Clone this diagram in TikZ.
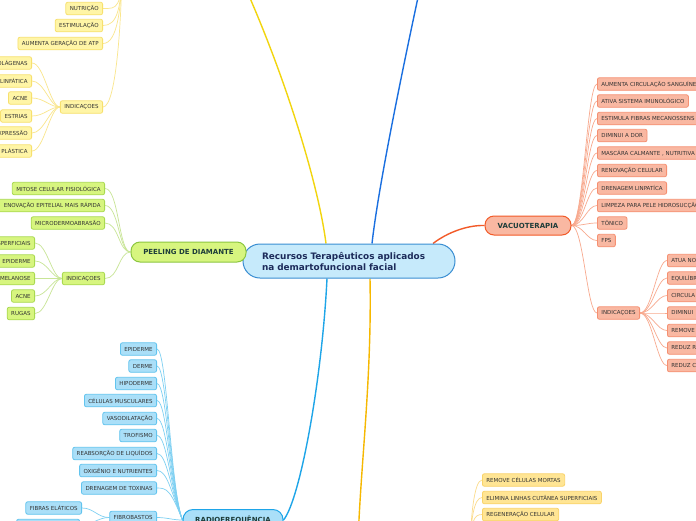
\documentclass[tikz,border=0pt]{standalone}
\usepackage{fontspec}
\setmainfont{DejaVu Sans}
\usetikzlibrary{backgrounds}
\definecolor{yfill}{HTML}{FFF5A6}
\definecolor{ydraw}{HTML}{F7E06E}
\definecolor{yline}{HTML}{FAE68C}
\definecolor{ymain}{HTML}{F2D50F}
\definecolor{gfill}{HTML}{D7F57F}
\definecolor{gdraw}{HTML}{A9D950}
\definecolor{gline}{HTML}{C8E596}
\definecolor{gmain}{HTML}{8CC63F}
\definecolor{bfill}{HTML}{AADFF8}
\definecolor{bdraw}{HTML}{62C4EE}
\definecolor{bline}{HTML}{7ED0F2}
\definecolor{bmain}{HTML}{1EA5E8}
\definecolor{sfill}{HTML}{F9B8A2}
\definecolor{sdraw}{HTML}{F59072}
\definecolor{sline}{HTML}{F8A98E}
\definecolor{smain}{HTML}{F25A28}
\definecolor{ofill}{HTML}{FFE594}
\definecolor{odraw}{HTML}{F9D36A}
\definecolor{oline}{HTML}{FCDC8C}
\definecolor{omain}{HTML}{F6B800}
\definecolor{dblue}{HTML}{1A6FE0}
\definecolor{cfill}{HTML}{C6EAFB}
\definecolor{cdraw}{HTML}{3A8ED2}
\definecolor{ctext}{HTML}{1C2B5A}
\definecolor{ttext}{HTML}{333333}
\definecolor{mtext}{HTML}{1E3D3A}
\tikzset{
  leaf/.style={rounded corners=2pt, line width=0.8pt, font=\fontsize{5.5}{6}\selectfont,
    text=ttext, minimum height=12.5pt, inner xsep=4pt, inner ysep=0pt},
  yleaf/.style={leaf, fill=yfill, draw=ydraw},
  gleaf/.style={leaf, fill=gfill, draw=gdraw},
  bleaf/.style={leaf, fill=bfill, draw=bdraw},
  sleaf/.style={leaf, fill=sfill, draw=sdraw},
  oleaf/.style={leaf, fill=ofill, draw=odraw},
  rcut/.style={text width=120pt, align=left},
  lcut/.style={text width=60pt, align=right},
  mainbox/.style={line width=1pt, font=\bfseries\fontsize{7}{8}\selectfont, text=mtext, inner sep=0pt},
  ycon/.style={draw=yline, line width=0.7pt},
  gcon/.style={draw=gline, line width=0.7pt},
  bcon/.style={draw=bline, line width=0.7pt},
  scon/.style={draw=sline, line width=0.7pt},
  ocon/.style={draw=oline, line width=0.7pt},
  maincon/.style={line width=1.4pt}
}
\begin{document}
\begin{tikzpicture}[x=1pt,y=-1pt]
\useasboundingbox (0,0) rectangle (696,520);
\clip (0,0) rectangle (696,520);

% central node
\node[rounded corners=17pt, fill=cfill, draw=cdraw, line width=1pt, minimum width=212pt,
  minimum height=34pt, text width=174pt, inner xsep=0pt, align=left, text=ctext,
  font=\bfseries\fontsize{8.9}{11}\selectfont] (c) at (349,261)
  {Recursos Terapêuticos aplicados\\na demartofuncional facial};

% main branches
\node[mainbox, rounded corners=9pt, fill=gfill, draw=gmain, minimum width=115pt, minimum height=20pt] (pm) at (188.5,252) {PEELING DE DIAMANTE};
\node[mainbox, rounded corners=9pt, fill=sfill, draw=smain, minimum width=86pt, minimum height=19pt] (v) at (528,225.5) {VACUOTERAPIA};
\node[mainbox, rounded corners=10pt, fill=bfill, draw=bmain, minimum width=100pt, minimum height=21pt] (r) at (233,520) {RADIOFREQUÊNCIA};

% off-canvas joins
\coordinate (yp) at (122,-40);
\coordinate (ytop) at (235,-35);
\coordinate (btop) at (425,-35);
\coordinate (obot) at (358,545);
\coordinate (gj) at (470,560);

% yellow leaves
\node[yleaf, anchor=east] (y1) at (103,8.5) {NUTRIÇÃO};
\node[yleaf, anchor=east] (y2) at (103,25.5) {ESTIMULAÇÃO};
\node[yleaf, anchor=east] (y3) at (103,43.5) {AUMENTA GERAÇÃO DE ATP};
\node[yleaf, anchor=east] (yi) at (103,107) {INDICAÇOES};
\node[yleaf, lcut, anchor=east] (ya) at (32,63) {OLÁGENAS};
\node[yleaf, lcut, anchor=east] (yb) at (32,81) {LINFÁTICA};
\node[yleaf, anchor=east] (yc) at (32,98) {ACNE};
\node[yleaf, anchor=east] (yd) at (32,116) {ESTRIAS};
\node[yleaf, lcut, anchor=east] (ye) at (32,133) {XPRESSÃO};
\node[yleaf, lcut, anchor=east] (yf) at (32,151) {PLÁSTICA};

% green leaves
\node[gleaf, anchor=east] (g1) at (105,188.5) {MITOSE CELULAR FISIOLÓGICA};
\node[gleaf, lcut, text width=110pt, anchor=east] (g2) at (105,205.5) {ENOVAÇÃO EPITELIAL MAIS RÁPIDA};
\node[gleaf, anchor=east] (g3) at (105,223) {MICRODERMOABRASÃO};
\node[gleaf, anchor=east] (gi) at (105,278.5) {INDICAÇOES};
\node[gleaf, lcut, anchor=east] (ga) at (35,243) {SPERFICIAIS};
\node[gleaf, lcut, anchor=east] (gb) at (35,261) {EPIDERME};
\node[gleaf, lcut, anchor=east] (gc) at (35,278.5) {MELANOSE};
\node[gleaf, anchor=east] (gd) at (35,296) {ACNE};
\node[gleaf, anchor=east] (ge) at (35,313.5) {RUGAS};

% blue leaves
\node[bleaf, anchor=east] (b1) at (157,349) {EPIDERME};
\node[bleaf, anchor=east] (b2) at (157,366) {DERME};
\node[bleaf, anchor=east] (b3) at (157,383.5) {HIPODERME};
\node[bleaf, anchor=east] (b4) at (157,400.5) {CÉLULAS MUSCULARES};
\node[bleaf, anchor=east] (b5) at (157,418.5) {VASODILATAÇÃO};
\node[bleaf, anchor=east] (b6) at (157,435.5) {TROFISMO};
\node[bleaf, anchor=east] (b7) at (157,453.5) {REABSORÇÃO DE LIQUÍDOS};
\node[bleaf, anchor=east] (b8) at (157,470.5) {OXIGÊNIO E NUTRIENTES};
\node[bleaf, anchor=east] (b9) at (157,488) {DRENAGEM DE TOXINAS};
\node[bleaf, anchor=east] (rf) at (157,517.5) {FIBROBASTOS};
\node[bleaf, anchor=east] (re) at (82,508) {FIBRAS ELÁTICOS};
\node[bleaf, anchor=east, minimum width=63pt] (rx) at (80,525.5) {};

% salmon leaves
\node[sleaf, rcut, anchor=west] (s1) at (597,84) {AUMENTA CIRCULAÇÃO SANGUÍNEA};
\node[sleaf, anchor=west] (s2) at (597,101) {ATIVA SISTEMA IMUNOLÓGICO};
\node[sleaf, rcut, anchor=west] (s3) at (597,118.5) {ESTIMULA FIBRAS MECANOSSENS};
\node[sleaf, anchor=west] (s4) at (597,135.5) {DIMINUI A DOR};
\node[sleaf, rcut, anchor=west] (s5) at (597,153) {MASCÁRA CALMANTE , NUTRITIVA};
\node[sleaf, anchor=west] (s6) at (597,170.5) {RENOVAÇÃO CELULAR};
\node[sleaf, anchor=west] (s7) at (597,188) {DRENAGEM LINPATÍCA};
\node[sleaf, rcut, anchor=west] (s8) at (597,205.5) {LIMPEZA PARA PELE HIDROSUCÇÃO};
\node[sleaf, anchor=west] (s9) at (597,223) {TÔNICO};
\node[sleaf, anchor=west] (s10) at (597,240.5) {FPS};
\node[sleaf, anchor=west] (vi) at (597,313) {INDICAÇOES};
\node[sleaf, rcut, anchor=west] (v1) at (667,260.5) {ATUA NO};
\node[sleaf, rcut, anchor=west] (v2) at (667,278) {EQUILÍBR};
\node[sleaf, rcut, anchor=west] (v3) at (667,295.5) {CIRCULA};
\node[sleaf, rcut, anchor=west] (v4) at (667,313) {DIMINUI};
\node[sleaf, rcut, anchor=west] (v5) at (667,330.5) {REMOVE};
\node[sleaf, rcut, anchor=west] (v6) at (667,348) {REDUZ R};
\node[sleaf, rcut, anchor=west] (v7) at (667,365.5) {REDUZ C};

% gold leaves
\node[oleaf, anchor=west] (o1) at (482,480) {REMOVE CÉLULAS MORTAS};
\node[oleaf, anchor=west] (o2) at (482,497.5) {ELIMINA LINHAS CUTÂNEA SUPERFICIAIS};
\node[oleaf, anchor=west] (o3) at (482,514.5) {REGENERAÇÃO CELULAR};

\begin{scope}[on background layer]
\fill[white] (0,0) rectangle (696,520);
% main connectors
\draw[maincon, ymain] ([xshift=-23pt]c.north) .. controls (318,180) and (280,60) .. (ytop);
\draw[maincon, dblue] ([xshift=23pt]c.north) .. controls (378,190) and (400,80) .. (btop);
\draw[maincon, smain] ([xshift=84pt]c.north) .. controls (448,232) and (468,225) .. (v.west);
\draw[maincon, bmain] ([xshift=-22pt]c.south) .. controls (322,380) and (300,500) .. (r.east);
\draw[maincon, omain] ([xshift=21pt]c.south) .. controls (372,380) and (360,470) .. (obot);
\draw[maincon, gmain] (pm.east) -- (c.west);

% yellow
\foreach \n in {y1,y2,y3,yi}
  \draw[ycon] (\n.east) .. controls +(14,0) and +(0,50) .. (yp);
\foreach \n in {ya,yb,yc,yd,ye,yf}
  \draw[ycon] (\n.east) .. controls +(12,0) and +(-10,0) .. (yi.west);

% green
\foreach \n in {g1,g2,g3,gi}
  \draw[gcon] (\n.east) .. controls +(14,0) and +(-12,0) .. (pm.west);
\foreach \n in {ga,gb,gc,gd,ge}
  \draw[gcon] (\n.east) .. controls +(12,0) and +(-10,0) .. (gi.west);

% blue
\foreach \n in {b1,b2,b3,b4,b5,b6,b7,b8,b9}
  \draw[bcon] (\n.east) .. controls +(10,0) and +(-12,-30) .. (r.west);
\draw[bcon] (rf.east) .. controls +(10,0) and +(-10,0) .. (r.west);
\draw[bcon] (re.east) .. controls +(12,0) and +(-12,0) .. (rf.west);
\draw[bcon] (rx.east) .. controls +(12,0) and +(-12,0) .. (rf.west);

% salmon
\foreach \n in {s1,s2,s3,s4,s5,s6,s7,s8,s9,s10,vi}
  \draw[scon] (v.east) .. controls +(12,0) and +(-10,0) .. (\n.west);
\foreach \n in {v1,v2,v3,v4,v5,v6,v7}
  \draw[scon] (vi.east) .. controls +(12,0) and +(-10,0) .. (\n.west);

% gold
\foreach \n in {o1,o2,o3}
  \draw[ocon] (\n.west) .. controls +(-8,0) and +(0,-40) .. (gj);
\end{scope}
\end{tikzpicture}
\end{document}
